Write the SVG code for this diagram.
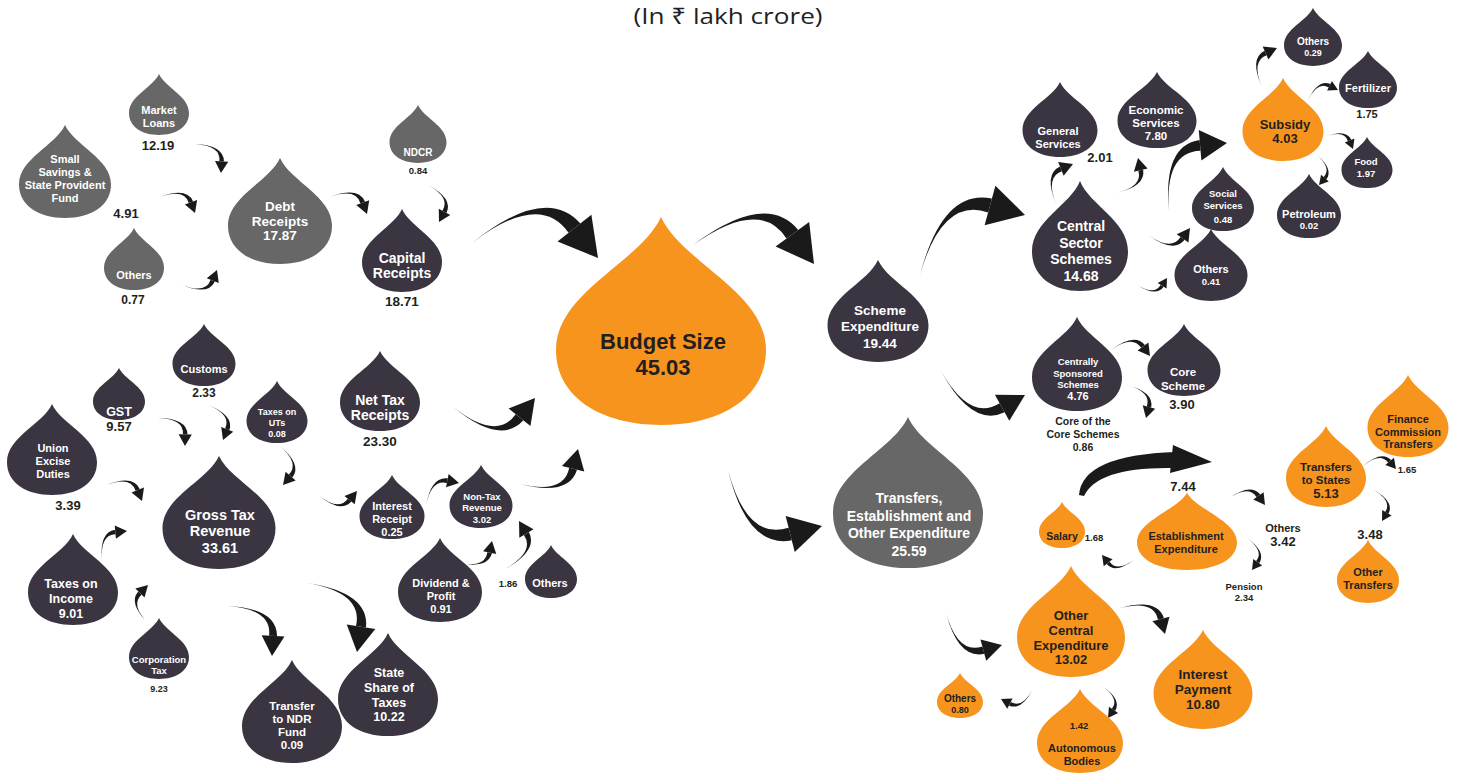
<svg xmlns="http://www.w3.org/2000/svg" xmlns:xlink="http://www.w3.org/1999/xlink" width="1457" height="774" viewBox="0 0 1457 774">
<style>
.dk{fill:#3a3541}.gy{fill:#676767}.or{fill:#f7941d}
.t{font-family:"Liberation Sans",Arial,sans-serif;font-weight:bold;text-anchor:middle}
.w{fill:#ffffff}.k{fill:#231f20}
</style>
<defs>
<path id="drop" d="M0,0 C10,22 50,36 50,64 C50,87 28,100 0,100 C-28,100 -50,87 -50,64 C-50,36 -10,22 0,0 Z"/>
<g id="arr"><path d="M0,0 Q52,-53 83,-25.4 L74.6,-17 Q48,-47 0,0 Z"/><path d="M100,0 L90.8,-33.2 L66.8,-9.2 Z"/></g>
</defs>
<rect width="1457" height="774" fill="#ffffff"/>
<text x="728" y="23.5" font-family="'Open Sans','Noto Sans',sans-serif" font-size="21.5" fill="#231f20" text-anchor="middle" textLength="189" lengthAdjust="spacingAndGlyphs">(In ₹ lakh crore)</text>

<g id="connectors" fill="#1a1a1a">
<use href="#arr" transform="matrix(.26,.29,-.29,.26,195,144)"/>
<use href="#arr" transform="matrix(.35,.16,-.16,.35,160,197)"/>
<use href="#arr" transform="matrix(.37,.17,-.17,.37,330,197)"/>
<use href="#arr" transform="matrix(.11,.37,-.37,.11,428,185)"/>
<use href="#arr" transform="matrix(1.26,.15,-.15,1.26,472,243)"/>
<use href="#arr" transform="matrix(1.21,.19,-.19,1.21,693,245)"/>
<use href="#arr" transform="matrix(.17,-.40,.40,.17,1056,204)"/>
<use href="#arr" transform="matrix(1.05,-.60,.60,1.05,920,275)"/>
<use href="#arr" transform="matrix(.22,-.35,-.35,-.22,1116,193)"/>
<use href="#arr" transform="matrix(.58,-.69,.69,.58,1169,212)"/>
<use href="#arr" transform="matrix(.15,-.39,.39,.15,1262,87)"/>
<use href="#arr" transform="matrix(.30,-.10,.10,.30,1308,100)"/>
<use href="#arr" transform="matrix(.28,.12,-.12,.28,1325,137)"/>
<use href="#arr" transform="matrix(.02,.30,-.30,.02,1317,155)"/>
<use href="#arr" transform="matrix(.42,-.07,-.07,-.42,1148,235)"/>
<use href="#arr" transform="matrix(.30,-.07,-.07,-.30,1137,285)"/>
<use href="#arr" transform="matrix(.39,.06,-.06,.39,1111,350)"/>
<use href="#arr" transform="matrix(.19,.33,-.33,.19,1127,385)"/>
<path d="M1079,495 Q1082,455 1176,452 L1176,468 Q1098,466 1084,496 Z"/>
<path d="M1173,445 L1212,462 L1170,473 Z"/>
<use href="#arr" transform="matrix(.33,.03,-.03,.33,1363,466)"/>
<use href="#arr" transform="matrix(.37,.06,-.06,.37,1228,499)"/>
<use href="#arr" transform="matrix(.08,.31,-.31,.08,1374,490)"/>
<use href="#arr" transform="matrix(.05,.32,-.32,.05,1247,538)"/>
<use href="#arr" transform="matrix(-.33,-.04,.04,-.33,1135,559)"/>
<use href="#arr" transform="matrix(.45,.26,-.26,.45,1120,608)"/>
<use href="#arr" transform="matrix(.06,.32,-.32,.06,1102,686)"/>
<use href="#arr" transform="matrix(.56,.32,.32,-.56,946,613)"/>
<use href="#arr" transform="matrix(-.32,.10,-.10,-.32,1033,689)"/>
<use href="#arr" transform="matrix(.94,.56,.56,-.94,728,470)"/>
<use href="#arr" transform="matrix(.84,.24,.24,-.84,941,371)"/>
<use href="#arr" transform="matrix(.82,-.09,-.09,-.82,453,407)"/>
<use href="#arr" transform="matrix(.58,-.35,-.35,-.58,520,484)"/>
<use href="#arr" transform="matrix(.33,-.22,.22,.33,426,505)"/>
<use href="#arr" transform="matrix(.33,-.22,-.22,-.33,459,563)"/>
<use href="#arr" transform="matrix(.12,-.47,-.47,-.12,507,568)"/>
<use href="#arr" transform="matrix(.50,.69,-.69,.50,307,583)"/>
<use href="#arr" transform="matrix(.45,.50,-.50,.45,227,606)"/>
<use href="#arr" transform="matrix(.25,-.30,.30,.25,102,561)"/>
<use href="#arr" transform="matrix(0,-.38,.38,0,148,623)"/>
<use href="#arr" transform="matrix(.35,-.15,-.15,-.35,182,285)"/>
<use href="#arr" transform="matrix(.27,.28,-.28,.27,158,418)"/>
<use href="#arr" transform="matrix(.15,.35,-.35,.15,208,405)"/>
<use href="#arr" transform="matrix(.03,.39,-.39,.03,280,446)"/>
<use href="#arr" transform="matrix(.36,.16,-.16,.36,106,485)"/>
<use href="#arr" transform="matrix(.39,-.04,-.04,-.39,318,495)"/>
</g>

<g id="market-loans"><use href="#drop" class="gy" transform="translate(159,74) scale(.60,.61)"/>
<text class="t w" font-size="11" x="159" y="114">Market</text><text class="t w" font-size="11" x="159" y="127">Loans</text>
<text class="t k" font-size="13" x="158" y="150">12.19</text></g>

<g id="small-savings"><use href="#drop" class="gy" transform="translate(65,125) scale(.92,.93)"/>
<text class="t w" font-size="11" x="65" y="163">Small</text><text class="t w" font-size="11" x="65" y="176">Savings &amp;</text>
<text class="t w" font-size="11" x="65" y="189">State Provident</text><text class="t w" font-size="11" x="65" y="202">Fund</text>
<text class="t k" font-size="13" x="126" y="218">4.91</text></g>

<g id="others-capital"><use href="#drop" class="gy" transform="translate(134,228) scale(.60,.62)"/>
<text class="t w" font-size="11" x="134" y="279">Others</text>
<text class="t k" font-size="12" x="133" y="304">0.77</text></g>

<g id="debt-receipts"><use href="#drop" class="gy" transform="translate(280,158) scale(1.04,1.06)"/>
<text class="t w" font-size="13.5" x="280" y="211">Debt</text><text class="t w" font-size="13.5" x="280" y="226">Receipts</text>
<text class="t w" font-size="13.5" x="280" y="240">17.87</text></g>

<g id="ndcr"><use href="#drop" class="gy" transform="translate(418,105) scale(.57,.58)"/>
<text class="t w" font-size="10" x="418" y="155.5">NDCR</text>
<text class="t k" font-size="9.5" x="418" y="173.5">0.84</text></g>

<g id="capital-receipts"><use href="#drop" class="dk" transform="translate(402,209) scale(.80,.83)"/>
<text class="t w" font-size="14" x="402" y="263">Capital</text><text class="t w" font-size="14" x="402" y="278">Receipts</text>
<text class="t k" font-size="13.5" x="402" y="306">18.71</text></g>

<g id="budget-size"><use href="#drop" class="or" transform="translate(661,217) scale(2.10,2.08)"/>
<text class="t k" font-size="22" x="663" y="349">Budget Size</text><text class="t k" font-size="22" x="663" y="375">45.03</text></g>

<g id="customs"><use href="#drop" class="dk" transform="translate(204,324) scale(.63,.62)"/>
<text class="t w" font-size="11" x="204" y="373">Customs</text>
<text class="t k" font-size="12" x="204" y="397">2.33</text></g>

<g id="gst"><use href="#drop" class="dk" transform="translate(119,368) scale(.52,.52)"/>
<text class="t w" font-size="12.5" x="119" y="415.5">GST</text>
<text class="t k" font-size="13" x="119" y="430.5">9.57</text></g>

<g id="taxes-uts"><use href="#drop" class="dk" transform="translate(277,381) scale(.61,.62)"/>
<text class="t w" font-size="9" x="277" y="415">Taxes on</text><text class="t w" font-size="9" x="277" y="426">UTs</text>
<text class="t w" font-size="9" x="277" y="437">0.08</text></g>

<g id="union-excise"><use href="#drop" class="dk" transform="translate(52,404) scale(.90,.91)"/>
<text class="t w" font-size="11" x="53" y="452">Union</text><text class="t w" font-size="11" x="53" y="465">Excise</text>
<text class="t w" font-size="11" x="53" y="478">Duties</text>
<text class="t k" font-size="13" x="68" y="509.5">3.39</text></g>

<g id="net-tax"><use href="#drop" class="dk" transform="translate(380,351) scale(.80,.80)"/>
<text class="t w" font-size="14" x="380" y="405">Net Tax</text><text class="t w" font-size="14" x="380" y="420">Receipts</text>
<text class="t k" font-size="13.5" x="380" y="446">23.30</text></g>

<g id="gross-tax"><use href="#drop" class="dk" transform="translate(219,456) scale(1.13,1.13)"/>
<text class="t w" font-size="14.5" x="220" y="520">Gross Tax</text><text class="t w" font-size="14.5" x="220" y="536">Revenue</text>
<text class="t w" font-size="14.5" x="220" y="553">33.61</text></g>

<g id="taxes-income"><use href="#drop" class="dk" transform="translate(73,534) scale(.90,.91)"/>
<text class="t w" font-size="12.5" x="71" y="587.5">Taxes on</text><text class="t w" font-size="12.5" x="71" y="602.5">Income</text>
<text class="t w" font-size="12.5" x="71" y="617.5">9.01</text></g>

<g id="corporation-tax"><use href="#drop" class="dk" transform="translate(159,618) scale(.60,.61)"/>
<text class="t w" font-size="9.5" x="159" y="663">Corporation</text><text class="t w" font-size="9.5" x="159" y="674">Tax</text>
<text class="t k" font-size="9" x="159" y="692">9.23</text></g>

<g id="ndr-fund"><use href="#drop" class="dk" transform="translate(292,660) scale(1.00,1.03)"/>
<text class="t w" font-size="11.5" x="292" y="710">Transfer</text><text class="t w" font-size="11.5" x="292" y="723">to NDR</text>
<text class="t w" font-size="11.5" x="292" y="736">Fund</text><text class="t w" font-size="11.5" x="292" y="749">0.09</text></g>

<g id="state-share"><use href="#drop" class="dk" transform="translate(388,633) scale(1.00,1.03)"/>
<text class="t w" font-size="12.5" x="389" y="676.5">State</text><text class="t w" font-size="12.5" x="389" y="691.5">Share of</text>
<text class="t w" font-size="12.5" x="389" y="706.5">Taxes</text><text class="t w" font-size="12.5" x="389" y="720.5">10.22</text></g>

<g id="interest-receipt"><use href="#drop" class="dk" transform="translate(392,475) scale(.65,.64)"/>
<text class="t w" font-size="11" x="392" y="510">Interest</text><text class="t w" font-size="11" x="392" y="523">Receipt</text>
<text class="t w" font-size="11" x="392" y="536">0.25</text></g>

<g id="non-tax"><use href="#drop" class="dk" transform="translate(481,465) scale(.63,.63)"/>
<text class="t w" font-size="9.5" x="482" y="499.5">Non-Tax</text><text class="t w" font-size="9.5" x="482" y="510.5">Revenue</text>
<text class="t w" font-size="9.5" x="482" y="522.5">3.02</text></g>

<g id="dividend"><use href="#drop" class="dk" transform="translate(440,538) scale(.84,.84)"/>
<text class="t w" font-size="11" x="441" y="587">Dividend &amp;</text><text class="t w" font-size="11" x="441" y="600">Profit</text>
<text class="t w" font-size="11" x="441" y="613">0.91</text></g>

<g id="others-nontax"><use href="#drop" class="dk" transform="translate(551,545) scale(.52,.53)"/>
<text class="t w" font-size="11" x="550" y="587">Others</text>
<text class="t k" font-size="9.5" x="508" y="586.5">1.86</text></g>

<g id="scheme-exp"><use href="#drop" class="dk" transform="translate(878,260) scale(1.01,1.02)"/>
<text class="t w" font-size="13.5" x="880" y="315">Scheme</text><text class="t w" font-size="13.5" x="880" y="331">Expenditure</text>
<text class="t w" font-size="13.5" x="880" y="348">19.44</text></g>

<g id="transfers-exp"><use href="#drop" class="gy" transform="translate(908,417) scale(1.50,1.51)"/>
<text class="t w" font-size="14" x="909" y="503">Transfers,</text><text class="t w" font-size="14" x="909" y="521">Establishment and</text>
<text class="t w" font-size="14" x="909" y="538">Other Expenditure</text><text class="t w" font-size="14" x="909" y="556">25.59</text></g>

<g id="central-sector"><use href="#drop" class="dk" transform="translate(1080,181) scale(.96,1.10)"/>
<text class="t w" font-size="14" x="1081" y="231">Central</text><text class="t w" font-size="14" x="1081" y="248">Sector</text>
<text class="t w" font-size="14" x="1081" y="264">Schemes</text><text class="t w" font-size="14" x="1081" y="281">14.68</text></g>

<g id="general-services"><use href="#drop" class="dk" transform="translate(1060,82) scale(.75,.75)"/>
<text class="t w" font-size="11" x="1058" y="135">General</text><text class="t w" font-size="11" x="1058" y="148">Services</text>
<text class="t k" font-size="13" x="1100" y="161.5">2.01</text></g>

<g id="economic-services"><use href="#drop" class="dk" transform="translate(1157,72) scale(.79,.76)"/>
<text class="t w" font-size="11.5" x="1156" y="114">Economic</text><text class="t w" font-size="11.5" x="1156" y="127">Services</text>
<text class="t w" font-size="11.5" x="1156" y="140">7.80</text></g>

<g id="subsidy"><use href="#drop" class="or" transform="translate(1283,78) scale(.81,.83)"/>
<text class="t k" font-size="13" x="1285" y="128.5">Subsidy</text><text class="t k" font-size="13" x="1285" y="142.5">4.03</text></g>

<g id="others-subsidy"><use href="#drop" class="dk" transform="translate(1313,8) scale(.58,.58)"/>
<text class="t w" font-size="10" x="1313" y="44.5">Others</text><text class="t w" font-size="9" x="1313" y="56">0.29</text></g>

<g id="fertilizer"><use href="#drop" class="dk" transform="translate(1368,51) scale(.58,.57)"/>
<text class="t w" font-size="11" x="1368" y="92">Fertilizer</text>
<text class="t k" font-size="11" x="1367" y="118">1.75</text></g>

<g id="food"><use href="#drop" class="dk" transform="translate(1367,137) scale(.51,.51)"/>
<text class="t w" font-size="9.5" x="1366" y="164.5">Food</text><text class="t w" font-size="9.5" x="1366" y="176.5">1.97</text></g>

<g id="petroleum"><use href="#drop" class="dk" transform="translate(1309,174) scale(.64,.64)"/>
<text class="t w" font-size="11" x="1309" y="218">Petroleum</text><text class="t w" font-size="9.5" x="1309" y="228.5">0.02</text></g>

<g id="social-services"><use href="#drop" class="dk" transform="translate(1223,167) scale(.62,.64)"/>
<text class="t w" font-size="9.5" x="1223" y="196.5">Social</text><text class="t w" font-size="9.5" x="1223" y="208.5">Services</text>
<text class="t w" font-size="9.5" x="1223" y="222.5">0.48</text></g>

<g id="others-central"><use href="#drop" class="dk" transform="translate(1211,229) scale(.73,.72)"/>
<text class="t w" font-size="11" x="1211" y="273">Others</text><text class="t w" font-size="9.5" x="1211" y="284.5">0.41</text></g>

<g id="css"><use href="#drop" class="dk" transform="translate(1077,317) scale(.90,.94)"/>
<text class="t w" font-size="9.5" x="1078" y="364.5">Centrally</text><text class="t w" font-size="9.5" x="1078" y="376.5">Sponsored</text>
<text class="t w" font-size="9.5" x="1078" y="387.5">Schemes</text><text class="t w" font-size="11" x="1078" y="400">4.76</text>
<text class="t k" font-size="10.5" x="1083" y="425">Core of the</text><text class="t k" font-size="10.5" x="1083" y="438">Core Schemes</text>
<text class="t k" font-size="10.5" x="1083" y="451">0.86</text></g>

<g id="core-scheme"><use href="#drop" class="dk" transform="translate(1184,324) scale(.73,.72)"/>
<text class="t w" font-size="11.5" x="1183" y="376">Core</text><text class="t w" font-size="11.5" x="1183" y="390">Scheme</text>
<text class="t k" font-size="13" x="1182" y="408.5">3.90</text></g>

<g id="finance-commission"><use href="#drop" class="or" transform="translate(1408,375) scale(.81,.82)"/>
<text class="t k" font-size="11" x="1408" y="423">Finance</text><text class="t k" font-size="11" x="1408" y="436">Commission</text>
<text class="t k" font-size="11" x="1408" y="448">Transfers</text></g>

<g id="transfers-states"><use href="#drop" class="or" transform="translate(1326,426) scale(.80,.81)"/>
<text class="t k" font-size="11.5" x="1326" y="471">Transfers</text><text class="t k" font-size="11.5" x="1326" y="484">to States</text>
<text class="t k" font-size="13" x="1326" y="497.5">5.13</text>
<text class="t k" font-size="9.5" x="1407" y="472.5">1.65</text></g>

<g id="other-transfers"><use href="#drop" class="or" transform="translate(1368,540) scale(.62,.63)"/>
<text class="t k" font-size="11" x="1368" y="576">Other</text><text class="t k" font-size="11" x="1368" y="589">Transfers</text>
<text class="t k" font-size="13" x="1370" y="539">3.48</text></g>

<g id="establishment"><use href="#drop" class="or" transform="translate(1187,493) scale(1.00,.77)"/>
<text class="t k" font-size="11" x="1186" y="540">Establishment</text><text class="t k" font-size="11" x="1186" y="553">Expenditure</text>
<text class="t k" font-size="13" x="1183" y="491">7.44</text></g>

<g id="salary"><use href="#drop" class="or" transform="translate(1062,502) scale(.46,.46)"/>
<text class="t k" font-size="10.5" x="1062" y="540">Salary</text>
<text class="t k" font-size="9.5" x="1094" y="540.5">1.68</text></g>

<g id="others-establishment">
<text class="t k" font-size="11" x="1283" y="532">Others</text><text class="t k" font-size="13" x="1283" y="545.5">3.42</text></g>

<g id="pension">
<text class="t k" font-size="9.5" x="1244" y="589.5">Pension</text><text class="t k" font-size="9.5" x="1244" y="600.5">2.34</text></g>

<g id="other-central-exp"><use href="#drop" class="or" transform="translate(1071,566) scale(1.08,1.11)"/>
<text class="t k" font-size="13" x="1071" y="620">Other</text><text class="t k" font-size="13" x="1071" y="635">Central</text>
<text class="t k" font-size="13" x="1071" y="650">Expenditure</text><text class="t k" font-size="13" x="1071" y="664">13.02</text></g>

<g id="interest-payment"><use href="#drop" class="or" transform="translate(1203,630) scale(.99,.99)"/>
<text class="t k" font-size="13.5" x="1203" y="679">Interest</text><text class="t k" font-size="13.5" x="1203" y="694">Payment</text>
<text class="t k" font-size="13.5" x="1203" y="709">10.80</text></g>

<g id="others-oce"><use href="#drop" class="or" transform="translate(960,673) scale(.46,.45)"/>
<text class="t k" font-size="10" x="960" y="701.5">Others</text><text class="t k" font-size="9" x="960" y="713">0.80</text></g>

<g id="autonomous-bodies"><use href="#drop" class="or" transform="translate(1080,689) scale(.86,.84)"/>
<text class="t k" font-size="9.5" x="1079" y="728.5">1.42</text>
<text class="t k" font-size="11" x="1082" y="752">Autonomous</text><text class="t k" font-size="11" x="1082" y="765">Bodies</text></g>
</svg>
